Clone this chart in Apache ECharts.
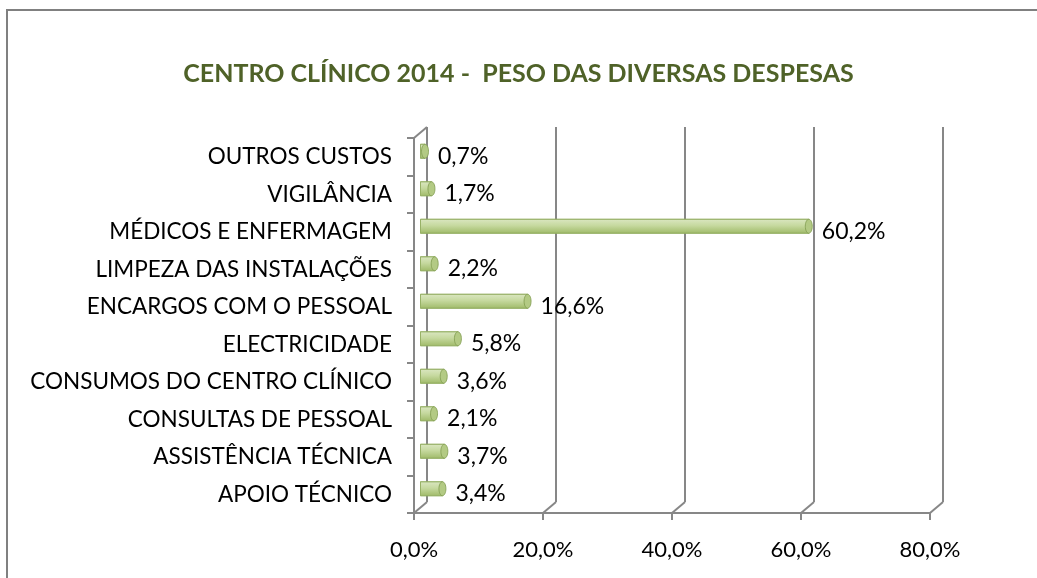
<!DOCTYPE html>
<html>
<head>
<meta charset="utf-8">
<script src="https://cdn.jsdelivr.net/npm/echarts@6/dist/echarts.min.js"></script>
<style>
  html, body { margin: 0; padding: 0; background: #fff; }
  #container { width: 1037px; height: 578px; }
</style>
</head>
<body>
<div id="container"></div>
<script>
// categorias de baixo para cima, como no Excel
var categories = [
    'APOIO TÉCNICO',
    'ASSISTÊNCIA TÉCNICA',
    'CONSULTAS DE PESSOAL',
    'CONSUMOS DO CENTRO CLÍNICO',
    'ELECTRICIDADE',
    'ENCARGOS COM O PESSOAL',
    'LIMPEZA DAS INSTALAÇÕES',
    'MÉDICOS E ENFERMAGEM',
    'VIGILÂNCIA',
    'OUTROS CUSTOS'
];
var values = [3.4, 3.7, 2.1, 3.6, 5.8, 16.6, 2.2, 60.2, 1.7, 0.7];
var axisMin = 0, axisMax = 80, axisStep = 20;

var FONT = 'Lato';
var GRAY = '#878787';
var front = { left: 414, right: 107, top: 138, bottom: 65 };
var depth = { x: 13, y: -11 };

function pct(v) {
    return v.toFixed(1).replace('.', ',') + '%';
}
function shifted(f) {
    return {
        left: front.left + depth.x * f,
        right: front.right - depth.x * f,
        top: front.top + depth.y * f,
        bottom: front.bottom - depth.y * f
    };
}

var back = shifted(1);
var mid = shifted(0.5);

function valueAxis(gridIndex, show) {
    return {
        type: 'value', gridIndex: gridIndex,
        min: axisMin, max: axisMax, interval: axisStep,
        axisLine: { show: show, lineStyle: { color: GRAY, width: 2 } },
        axisTick: { show: show, length: 7, lineStyle: { color: GRAY, width: 2 } },
        axisLabel: {
            show: show, margin: 26, color: '#000', fontFamily: FONT, fontSize: 22,
            formatter: function (v) { return pct(v); }
        },
        splitLine: { show: gridIndex === 1, lineStyle: { color: GRAY, width: 2 } }
    };
}
function catAxis(gridIndex, show) {
    return {
        type: 'category', gridIndex: gridIndex, data: categories,
        axisLine: { show: show, lineStyle: { color: GRAY, width: 2 } },
        axisTick: { show: show, length: 7, lineStyle: { color: GRAY, width: 2 } },
        axisLabel: { show: show, margin: 22, color: '#000', fontFamily: FONT, fontSize: 22.5 },
        splitLine: { show: false }
    };
}

var myChart = echarts.init(document.getElementById('container'));

var option = {
    backgroundColor: '#fff',
    animation: false,
    title: {
        text: 'CENTRO CLÍNICO 2014 -  PESO DAS DIVERSAS DESPESAS',
        left: 'center', top: 56,
        textStyle: { color: '#4f6228', fontFamily: FONT, fontSize: 25, fontWeight: 'bold' }
    },
    grid: [
        Object.assign({}, front),   // 0: eixos da frente
        Object.assign({}, back),    // 1: parede do fundo
        Object.assign({}, mid)      // 2: barras
    ],
    xAxis: [valueAxis(0, true), valueAxis(1, false), valueAxis(2, false)],
    yAxis: [catAxis(0, true), catAxis(1, false), catAxis(2, false)],
    series: [{
        type: 'custom',
        xAxisIndex: 2, yAxisIndex: 2,
        encode: { x: 0, y: 1 },
        data: values.map(function (v, i) { return [v, i]; }),
        renderItem: function (params, api) {
            var v = api.value(0);
            var s = api.coord([0, api.value(1)]);
            var e = api.coord([v, api.value(1)]);
            var h = 14;
            return {
                type: 'group',
                children: [{
                    type: 'rect',
                    shape: { x: s[0], y: s[1] - h / 2, width: Math.max(e[0] - s[0], 1), height: h },
                    style: {
                        fill: new echarts.graphic.LinearGradient(0, 0, 0, 1, [
                            { offset: 0, color: '#dbe7c2' },
                            { offset: 0.45, color: '#c6d99f' },
                            { offset: 1, color: '#9fba68' }
                        ]),
                        stroke: '#94ae62', lineWidth: 0.8
                    }
                }, {
                    type: 'ellipse',
                    shape: { cx: e[0], cy: e[1], rx: 3.5, ry: h / 2 },
                    style: { fill: '#b3ca84', stroke: '#7f9a4e', lineWidth: 0.8 }
                }, {
                    type: 'text',
                    x: e[0] + 13, y: e[1] + 5,
                    style: {
                        text: pct(v), fill: '#000', font: '23px ' + FONT,
                        verticalAlign: 'middle', align: 'left'
                    }
                }]
            };
        }
    }]
};
myChart.setOption(option);

// linhas de profundidade (frente -> fundo) e moldura
var fBottom = 578 - front.bottom, bBottom = 578 - back.bottom;
var deco = [];
for (var t = axisMin; t <= axisMax; t += axisStep) {
    var xf = myChart.convertToPixel({ xAxisIndex: 0 }, t);
    var xb = myChart.convertToPixel({ xAxisIndex: 1 }, t);
    deco.push({ type: 'line', shape: { x1: xf, y1: fBottom, x2: xb, y2: bBottom },
        style: { stroke: GRAY, lineWidth: 2 } });
}
deco.push({ type: 'line', shape: { x1: front.left, y1: front.top, x2: back.left, y2: back.top },
    style: { stroke: GRAY, lineWidth: 2 } });
deco.push({ type: 'polyline', shape: { points: [[7, 578], [7, 10], [1037, 10]] },
    style: { stroke: '#808080', lineWidth: 2, fill: null } });
myChart.setOption({ graphic: deco });
</script>
</body>
</html>
